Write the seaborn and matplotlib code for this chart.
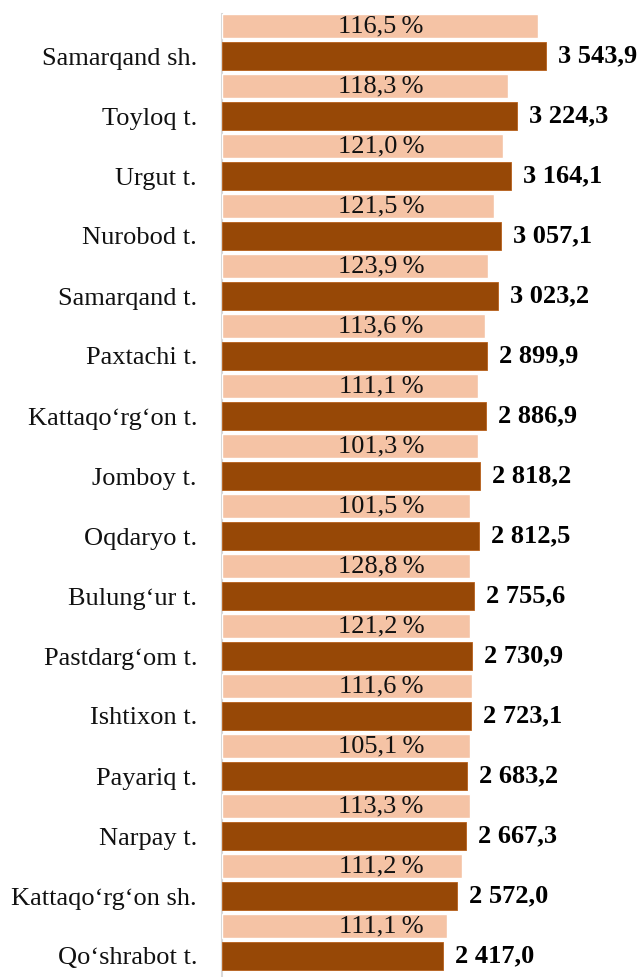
import pandas as pd
import matplotlib.pyplot as plt
import seaborn as sns

# data
regions = ["Samarqand sh.", "Toyloq t.", "Urgut t.", "Nurobod t.", "Samarqand t.",
           "Paxtachi t.", "Kattaqo\u2018rg\u2018on t.", "Jomboy t.", "Oqdaryo t.",
           "Bulung\u2018ur t.", "Pastdarg\u2018om t.", "Ishtixon t.", "Payariq t.",
           "Narpay t.", "Kattaqo\u2018rg\u2018on sh.", "Qo\u2018shrabot t."]
current = [3543.9, 3224.3, 3164.1, 3057.1, 3023.2, 2899.9, 2886.9, 2818.2,
           2812.5, 2755.6, 2730.9, 2723.1, 2683.2, 2667.3, 2572.0, 2417.0]
previous = [3457, 3128, 3074, 2975, 2910, 2877, 2800, 2800,
            2713, 2713, 2713, 2735, 2713, 2713, 2625, 2461]
growth = ["116,5", "118,3", "121,0", "121,5", "123,9", "113,6", "111,1", "101,3",
          "101,5", "128,8", "121,2", "111,6", "105,1", "113,3", "111,2", "111,1"]

LIGHT = "#F5C3A5"
DARK = "#974806"
FS = 19

df = pd.concat([
    pd.DataFrame({"region": regions, "series": "prev", "value": previous}),
    pd.DataFrame({"region": regions, "series": "cur", "value": current}),
])

sns.set_style("white")
plt.rcParams["font.family"] = ["Liberation Serif", "DejaVu Serif"]

fig = plt.figure(figsize=(6.43, 9.77), dpi=100)
ax = fig.add_axes([222 / 643, 0, 421 / 643, 963 / 977])

sns.barplot(data=df, y="region", x="value", hue="series", hue_order=["prev", "cur"],
            palette=[LIGHT, DARK], orient="h", width=1.0, dodge=True,
            saturation=1, legend=False, ax=ax)

# thinner light bars, slightly thicker dark bars, keep centres
for cont, h in zip(ax.containers, [0.40, 0.467]):
    for p in cont:
        c = p.get_y() + p.get_height() / 2
        p.set_height(h)
        p.set_y(c - h / 2)

for p in ax.containers[1]:
    p.set_edgecolor("#B8601A")
    p.set_linewidth(0.6)

# labels
for i, p in enumerate(ax.containers[1]):
    yc = p.get_y() + p.get_height() / 2
    ax.text(p.get_width() + 130, yc, f"{current[i]:,.1f}".replace(",", " ").replace(".", ","),
            va="center", ha="left", fontsize=FS, fontweight="bold", color="black")
for i, p in enumerate(ax.containers[0]):
    yc = p.get_y() + p.get_height() / 2
    ax.text(1739, yc, f"{growth[i]}\u2009%", va="center", ha="center", fontsize=FS, color="#111111")

ax.set_xlim(0, 4605)
ax.set_ylim(15.6, -0.45)
ax.set_xlabel("")
ax.set_ylabel("")
ax.set_xticks([])
ax.tick_params(axis="y", length=0, pad=18, labelsize=FS, labelcolor="#111111")
# tick labels sit next to the dark bar
ax.set_yticks([i + 0.25 for i in range(len(regions))])
ax.set_yticklabels(regions)
for s in ["top", "right", "bottom"]:
    ax.spines[s].set_visible(False)
ax.spines["left"].set_color("#D9D9D9")
ax.spines["left"].set_linewidth(1.5)
ax.spines["left"].set_zorder(0)

fig.savefig("out.png", dpi=100)
